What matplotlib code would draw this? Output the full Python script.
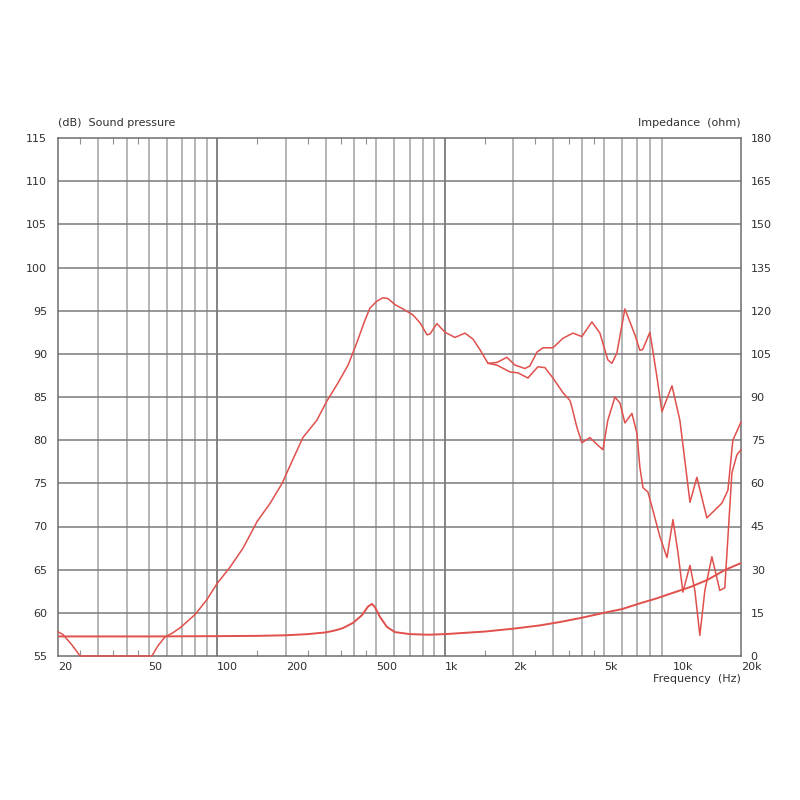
import numpy as np
import matplotlib
matplotlib.use("Agg")
import matplotlib.pyplot as plt
from matplotlib.ticker import FixedLocator, NullFormatter

# on-axis / off-axis share the curve up to ~1.6 kHz
freq_common = [20, 21, 23, 25, 35, 51.7, 55, 59, 64, 69, 80, 90, 100, 114, 130, 150, 171, 193,
               203, 238, 274, 303, 339, 376, 411, 446, 469, 503, 535, 563, 604, 655, 725, 778,
               836, 861, 923, 1002, 1108, 1226, 1330, 1426, 1547]
spl_common = [57.8, 57.5, 56.3, 55.0, 55.0, 55.0, 56.2, 57.2, 57.7, 58.3, 59.8, 61.5, 63.4, 65.3,
              67.5, 70.6, 72.7, 75.0, 76.3, 80.3, 82.3, 84.5, 86.6, 88.7, 91.3, 93.9, 95.3, 96.1,
              96.5, 96.4, 95.7, 95.2, 94.5, 93.6, 92.2, 92.3, 93.5, 92.5, 91.9, 92.4, 91.7, 90.5,
              88.9]

freq_on = [1694, 1874, 2032, 2248, 2366, 2540, 2698, 2986, 3303, 3656, 4000, 4428, 4800, 5200,
           5420, 5700, 6180, 6840, 7190, 7400, 7960, 8550, 8990, 9950, 10780, 11940, 12800,
           14160, 16480, 17520, 18420, 20000]
spl_on = [89.0, 89.6, 88.7, 88.3, 88.6, 90.2, 90.7, 90.7, 91.8, 92.4, 92.0, 93.7, 92.4, 89.3,
          88.9, 90.1, 95.2, 92.2, 90.4, 90.5, 92.5, 87.3, 83.3, 86.3, 82.3, 72.8, 75.7, 71.0,
          72.7, 74.2, 80.0, 82.1]

freq_off = [1694, 1932, 2094, 2318, 2564, 2754, 2986, 3303, 3546, 3618, 3803, 4000, 4338, 4706,
            4948, 5200, 5589, 5880, 6180, 6638, 6980, 7190, 7418, 7800, 8200, 8812, 9460,
            10050, 10570, 11110, 11940, 12540, 13190, 13880, 14900, 16140, 16980, 18240,
            19180, 20000]
spl_off = [88.7, 87.9, 87.8, 87.2, 88.5, 88.4, 87.2, 85.5, 84.6, 83.8, 81.5, 79.7, 80.3, 79.4,
           78.9, 82.3, 85.0, 84.3, 82.0, 83.1, 80.8, 76.9, 74.5, 74.0, 71.9, 68.8, 66.4, 70.8,
           67.0, 62.4, 65.5, 62.6, 57.4, 62.6, 66.5, 62.6, 62.9, 76.2, 78.3, 78.9]

freq_imp = [20, 50, 100, 150, 200, 250, 300, 330, 357, 395, 433, 460, 479, 493, 519, 557, 604,
            703, 850, 1000, 1500, 2000, 2600, 3200, 4000, 5000, 6000, 7200, 8500, 10000, 12000,
            14200, 17000, 20000]
imp_ohm = [6.8, 6.8, 6.9, 7.0, 7.2, 7.6, 8.2, 8.9, 9.7, 11.5, 14.2, 17.2, 18.1, 17.0, 13.6, 10.1,
           8.3, 7.6, 7.4, 7.6, 8.5, 9.5, 10.6, 11.8, 13.3, 15.0, 16.3, 18.3, 20.0, 21.9, 24.0,
           26.4, 29.9, 32.3]

xtick_vals = [20, 50, 100, 200, 500, 1000, 2000, 5000, 10000, 20000]
xtick_labels = ["20", "50", "100", "200", "500", "1k", "2k", "5k", "10k", "20k"]
spl_ticks = list(range(55, 116, 5))
imp_ticks = list(range(0, 181, 15))

RED = "#e0504c"
GRID = "#b0b0b0"
GRID_DARK = "#7a7a7a"
TXT = "#303030"

fig = plt.figure(figsize=(8, 8), dpi=100)
ax = fig.add_axes([58 / 800, 1 - 656 / 800, (741 - 58) / 800, (656 - 138) / 800])
ax.set_xscale("log")
ax.set_xlim(20, 20000)
ax.set_ylim(55, 115)

# vertical grid
for dec in [10, 100, 1000]:
    for m in range(1, 10):
        f = m * dec
        if f <= 20 or f >= 20000:
            continue
        if m == 1:
            ax.axvline(f, color=GRID_DARK, lw=1.3, zorder=1)
        else:
            ax.axvline(f, color=GRID, lw=1.3, zorder=1)
for y in spl_ticks[1:-1]:
    ax.axhline(y, color=GRID_DARK, lw=1.1, zorder=1)

for s in ax.spines.values():
    s.set_color("#6e6e6e")
    s.set_linewidth(1.1)

ax.set_xticks(xtick_vals)
ax.set_xticklabels(xtick_labels)
minor = [m * d for d in [10, 100, 1000] for m in [1.5, 2.5, 3.5, 4.5] if 20 < m * d < 20000]
ax.xaxis.set_minor_locator(FixedLocator(minor))
ax.xaxis.set_minor_formatter(NullFormatter())
ax.tick_params(axis="x", which="major", length=0, pad=4, labelsize=8, colors=TXT)
ax.tick_params(axis="x", which="minor", direction="in", length=4, top=True, bottom=True,
               color="#909090", width=0.8)
for lab in ax.get_xticklabels():
    lab.set_ha("left")
ax.set_yticks(spl_ticks)
ax.tick_params(axis="y", which="both", length=0, pad=8, labelsize=8, colors=TXT)

ax.plot(freq_common + freq_on, spl_common + spl_on, color=RED, lw=1.1, zorder=3, clip_on=False)
ax.plot(freq_common[-1:] + freq_off, spl_common[-1:] + spl_off, color=RED, lw=1.1, zorder=3,
        clip_on=False)

ax2 = ax.twinx()
ax2.set_ylim(0, 180)
ax2.set_yticks(imp_ticks)
ax2.tick_params(axis="y", length=0, pad=7, labelsize=8, colors=TXT)
for s in ax2.spines.values():
    s.set_visible(False)
ax2.plot(freq_imp, imp_ohm, color=RED, lw=1.4, zorder=3)

fig.text(58 / 800, 1 - 123 / 800, "(dB)  Sound pressure", fontsize=8, color=TXT,
         ha="left", va="center")
fig.text(741 / 800, 1 - 123 / 800, "Impedance  (ohm)", fontsize=8, color=TXT,
         ha="right", va="center")
fig.text(741 / 800, 1 - 679 / 800, "Frequency  (Hz)", fontsize=8, color=TXT,
         ha="right", va="center")

fig.savefig("out.png", dpi=100, facecolor="white")
